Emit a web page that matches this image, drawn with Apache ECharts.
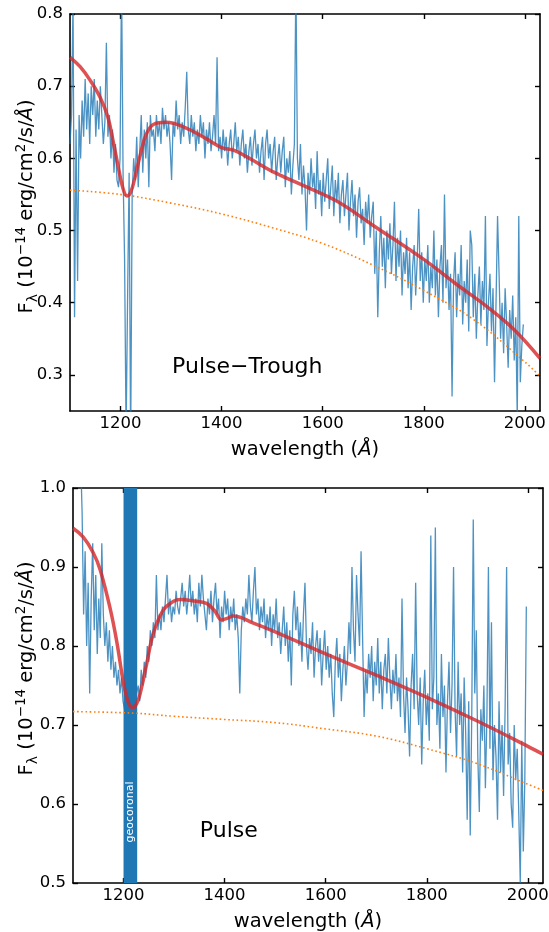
<!DOCTYPE html>
<html>
<head>
<meta charset="utf-8">
<script src="https://cdn.jsdelivr.net/npm/echarts@6/dist/echarts.min.js"></script>
<style>
  html, body { margin: 0; padding: 0; background: #fff; }
  #chart { width: 549px; height: 932px; }
</style>
</head>
<body>
<div id="chart"></div>
<script>
// ---------------- DATA ----------------
const WAVE_START = 1100;   // Å, first sample of observed spectrum grid
const WAVE_STEP = 3;       // Å, sampling step

// Observed flux, Pulse−Trough panel (10^-14 erg/cm2/s/Å), one row = 30 Å
const FLUX_TOP = [
  0.62,0.66,0.82,0.38,0.64,0.43,0.66,0.60,0.68,0.63, // 1100
  0.71,0.64,0.69,0.62,0.70,0.66,0.71,0.63,0.68,0.64, // 1130
  0.70,0.66,0.62,0.65,0.76,0.63,0.66,0.60,0.64,0.58, // 1160
  0.62,0.57,0.56,0.60,0.85,0.58,0.46,0.22,0.41,0.58, // 1190
  0.20,0.55,0.60,0.57,0.63,0.56,0.61,0.66,0.58,0.64, // 1220
  0.60,0.65,0.56,0.66,0.63,0.64,0.61,0.66,0.63,0.65, // 1250
  0.62,0.67,0.64,0.66,0.63,0.65,0.62,0.57,0.65,0.63, // 1280
  0.68,0.64,0.66,0.62,0.65,0.63,0.67,0.72,0.64,0.62, // 1310
  0.66,0.63,0.65,0.61,0.64,0.62,0.66,0.63,0.65,0.60, // 1340
  0.64,0.62,0.65,0.61,0.63,0.66,0.62,0.74,0.61,0.63, // 1370
  0.60,0.64,0.61,0.63,0.59,0.62,0.64,0.60,0.62,0.65, // 1400
  0.61,0.63,0.59,0.62,0.64,0.60,0.62,0.58,0.61,0.63, // 1430
  0.59,0.62,0.64,0.60,0.62,0.58,0.61,0.63,0.57,0.62, // 1460
  0.64,0.60,0.62,0.58,0.61,0.63,0.57,0.60,0.62,0.58, // 1490
  0.61,0.63,0.56,0.60,0.58,0.61,0.55,0.59,0.62,0.85, // 1520
  0.60,0.57,0.62,0.55,0.59,0.56,0.50,0.58,0.55,0.60, // 1550
  0.56,0.58,0.53,0.61,0.55,0.57,0.52,0.58,0.54,0.57, // 1580
  0.60,0.53,0.56,0.59,0.52,0.57,0.54,0.58,0.51,0.55, // 1610
  0.57,0.52,0.55,0.58,0.50,0.54,0.57,0.52,0.55,0.49, // 1640
  0.54,0.56,0.51,0.53,0.48,0.54,0.51,0.55,0.49,0.52, // 1670
  0.54,0.44,0.50,0.38,0.47,0.52,0.45,0.49,0.42,0.50, // 1700
  0.46,0.51,0.44,0.48,0.54,0.43,0.49,0.45,0.50,0.41, // 1730
  0.47,0.44,0.49,0.42,0.47,0.39,0.45,0.48,0.41,0.46, // 1760
  0.53,0.43,0.47,0.40,0.46,0.43,0.48,0.40,0.45,0.42, // 1790
  0.50,0.41,0.46,0.38,0.45,0.48,0.40,0.55,0.42,0.46, // 1820
  0.39,0.44,0.27,0.43,0.47,0.38,0.44,0.41,0.48,0.37, // 1850
  0.43,0.40,0.46,0.36,0.50,0.48,0.38,0.44,0.35,0.41, // 1880
  0.45,0.37,0.43,0.39,0.52,0.34,0.40,0.44,0.36,0.42, // 1910
  0.29,0.40,0.52,0.44,0.35,0.40,0.33,0.42,0.37,0.31, // 1940
  0.39,0.35,0.41,0.32,0.38,0.24,0.52,0.29,0.34,0.37  // 1970
];

// Observed flux, Pulse panel
const FLUX_BOTTOM = [
  null,null,null,null,null,1.04,0.97,0.84,0.92,0.80, // 1100
  0.88,0.74,0.86,0.93,0.82,0.89,0.79,0.86,0.81,0.93, // 1130
  0.84,0.80,0.83,0.78,0.82,0.77,0.80,0.76,0.78,0.75, // 1160
  0.77,0.74,0.76,0.73,0.72,0.70,0.71,0.69,0.72,0.70, // 1190
  0.73,0.71,0.74,0.75,0.73,0.77,0.75,0.78,0.76,0.80, // 1220
  0.78,0.82,0.80,0.83,0.81,0.89,0.82,0.84,0.82,0.85, // 1250
  0.83,0.86,0.89,0.84,0.86,0.83,0.85,0.84,0.87,0.85, // 1280
  0.84,0.86,0.88,0.85,0.87,0.84,0.86,0.89,0.85,0.87, // 1310
  0.84,0.86,0.83,0.88,0.85,0.89,0.86,0.84,0.82,0.86, // 1340
  0.84,0.87,0.83,0.86,0.88,0.84,0.86,0.81,0.85,0.83, // 1370
  0.87,0.84,0.86,0.82,0.85,0.83,0.86,0.82,0.84,0.81, // 1400
  0.74,0.82,0.85,0.83,0.86,0.84,0.89,0.85,0.83,0.87, // 1430
  0.90,0.84,0.86,0.82,0.85,0.83,0.86,0.81,0.84,0.82, // 1460
  0.85,0.80,0.84,0.82,0.86,0.81,0.83,0.79,0.82,0.85, // 1490
  0.80,0.83,0.78,0.82,0.75,0.84,0.87,0.82,0.85,0.80, // 1520
  0.83,0.78,0.84,0.88,0.80,0.77,0.81,0.79,0.83,0.76, // 1550
  0.80,0.82,0.78,0.81,0.75,0.79,0.82,0.77,0.80,0.76, // 1580
  0.79,0.74,0.71,0.78,0.81,0.76,0.79,0.73,0.77,0.80, // 1610
  0.75,0.78,0.83,0.79,0.90,0.82,0.78,0.89,0.84,0.80, // 1640
  0.92,0.81,0.71,0.77,0.74,0.79,0.76,0.80,0.73,0.78, // 1670
  0.75,0.81,0.74,0.78,0.72,0.77,0.79,0.74,0.81,0.76, // 1700
  0.72,0.77,0.74,0.79,0.73,0.76,0.71,0.86,0.74,0.69, // 1730
  0.76,0.72,0.66,0.75,0.79,0.72,0.88,0.74,0.70,0.76, // 1760
  0.65,0.73,0.77,0.70,0.74,0.68,0.94,0.72,0.76,0.95, // 1790
  0.70,0.74,0.67,0.79,0.71,0.75,0.64,0.73,0.78,0.69, // 1820
  0.75,0.90,0.72,0.66,0.78,0.70,0.74,0.64,0.76,0.69, // 1850
  0.58,0.73,0.56,0.71,0.96,0.74,0.82,0.66,0.59,0.72, // 1880
  0.68,0.75,0.62,0.71,0.90,0.67,0.83,0.63,0.70,0.66, // 1910
  0.58,0.73,0.64,0.70,0.61,0.72,0.90,0.65,0.69,0.60, // 1940
  0.57,0.70,0.63,0.67,0.59,0.50,0.68,0.54,0.63,0.85  // 1970
];

// Model (red) and continuum (orange dotted), Pulse−Trough
const MODEL_TOP_WAVE = [1100,1120,1140,1160,1175,1185,1195,1205,1213,1220,1228,1238,1250,1265,1290,1330,1370,1400,1425,1460,1500,1560,1630,1700,1800,1860,1930,1980,2030];
const MODEL_TOP_FLUX = [0.740,0.727,0.708,0.684,0.657,0.625,0.590,0.558,0.548,0.553,0.572,0.602,0.632,0.647,0.650,0.642,0.627,0.615,0.611,0.598,0.582,0.563,0.540,0.507,0.460,0.428,0.392,0.362,0.323];
const CONT_TOP_WAVE = [1100,1200,1300,1400,1500,1600,1700,1800,1900,2000,2030];
const CONT_TOP_FLUX = [0.556,0.550,0.538,0.523,0.504,0.482,0.452,0.417,0.376,0.318,0.298];

// Model and continuum, Pulse
const MODEL_BOTTOM_WAVE = [1100,1120,1140,1154,1174,1187,1200,1210,1218,1226,1233,1246,1259,1279,1300,1312,1340,1364,1380,1394,1405,1417,1457,1500,1600,1700,1800,1900,2000,2030];
const MODEL_BOTTOM_FLUX = [0.949,0.938,0.918,0.896,0.846,0.804,0.753,0.728,0.722,0.727,0.740,0.778,0.816,0.846,0.857,0.859,0.857,0.854,0.845,0.833,0.835,0.838,0.829,0.818,0.790,0.763,0.735,0.705,0.673,0.663];
const CONT_BOTTOM_WAVE = [1100,1220,1300,1400,1500,1600,1700,1800,1900,2000,2030];
const CONT_BOTTOM_FLUX = [0.717,0.715,0.711,0.707,0.703,0.695,0.686,0.670,0.651,0.625,0.617];

const GEO_BAND = [1200, 1227];
const X_TICKS = [1200, 1400, 1600, 1800, 2000];
const Y_TICKS_TOP = [0.3, 0.4, 0.5, 0.6, 0.7, 0.8];
const Y_TICKS_BOTTOM = [0.5, 0.6, 0.7, 0.8, 0.9, 1.0];
const PANEL_LABELS = ['Pulse\u2212Trough', 'Pulse'];
const BAND_LABEL = 'geocoronal';

// ---------------- BUILD ----------------
const FONT = 'DejaVu Sans';
const pairs = (xs, ys) => xs.map((x, i) => [x, ys[i]]);
const gridded = ys => ys.map((y, i) => [WAVE_START + i * WAVE_STEP, y]);

const chart = echarts.init(document.getElementById('chart'), null, { renderer: 'canvas' });

const lineAx = { show: true, onZero: false, lineStyle: { color: '#000', width: 1.6 } };
const tickStyle = { color: '#000', width: 1.4 };

function xAxes(grid) {
  return [
    {
      type: 'value', gridIndex: grid, min: 1100, max: 2030, position: 'bottom',
      axisLine: lineAx,
      axisTick: { inside: true, length: 5, lineStyle: tickStyle, customValues: X_TICKS },
      axisLabel: { customValues: X_TICKS, color: '#000', fontSize: 16.5, fontFamily: FONT, margin: 4,
                   formatter: v => String(v) },
      splitLine: { show: false },
      name: '{n|wavelength (}{it|\u00C5}{n|)}',
      nameLocation: 'middle', nameGap: 29, nameMoveOverlap: false,
      nameTextStyle: {
        fontFamily: FONT, fontSize: 19.5, color: '#000',
        rich: {
          n: { fontFamily: FONT, fontSize: 19.5, color: '#000' },
          it: { fontFamily: FONT, fontSize: 19.5, fontStyle: 'italic', color: '#000' }
        }
      }
    },
    {
      type: 'value', gridIndex: grid, min: 1100, max: 2030, position: 'top',
      axisLine: lineAx,
      axisTick: { inside: true, length: 5, lineStyle: tickStyle, customValues: X_TICKS },
      axisLabel: { show: false },
      splitLine: { show: false }
    }
  ];
}

const yName = '{n|F}{sub|\u03BB}{n| (10}{sup|\u221214}{n| erg/cm}{sup|2}{n|/s/}{it|\u00C5}{n|)}';
function yAxes(grid, min, max, ticks, shift, gap) {
  return [
    {
      type: 'value', gridIndex: grid, min: min, max: max, position: 'left',
      axisLine: lineAx,
      axisTick: { inside: true, length: 5, lineStyle: tickStyle, customValues: ticks },
      axisLabel: { customValues: ticks, color: '#000', fontSize: 16.5, fontFamily: FONT, margin: 7,
                   formatter: v => v.toFixed(1) },
      splitLine: { show: false },
      name: yName, nameLocation: 'middle', nameRotate: 90, nameGap: gap, nameMoveOverlap: false,
      nameTextStyle: {
        fontFamily: FONT, fontSize: 19.5, color: '#000',
        padding: [0, 0, 0, shift],
        rich: {
          n: { fontFamily: FONT, fontSize: 19.5, lineHeight: 26, color: '#000' },
          it: { fontFamily: FONT, fontSize: 19.5, lineHeight: 26, fontStyle: 'italic', color: '#000' },
          sub: { fontFamily: FONT, fontSize: 14, lineHeight: 16, verticalAlign: 'bottom', color: '#000' },
          sup: { fontFamily: FONT, fontSize: 13.5, lineHeight: 13, verticalAlign: 'top', color: '#000' }
        }
      }
    },
    {
      type: 'value', gridIndex: grid, min: min, max: max, position: 'right',
      axisLine: lineAx,
      axisTick: { inside: true, length: 5, lineStyle: tickStyle, customValues: ticks },
      axisLabel: { show: false },
      splitLine: { show: false }
    }
  ];
}

const BLUE = '#1f77b4', RED = '#d62728', ORANGE = '#ff7f0e';

function panelSeries(xi, yi, flux, mw, mf, cw, cf) {
  return [
    { type: 'line', xAxisIndex: xi, yAxisIndex: yi, data: gridded(flux), showSymbol: false,
      connectNulls: false, z: 2, silent: true,
      lineStyle: { color: BLUE, width: 1.3, opacity: 0.8 } },
    { type: 'line', xAxisIndex: xi, yAxisIndex: yi, data: pairs(cw, cf), showSymbol: false,
      smooth: 0.4, z: 4, silent: true,
      lineStyle: { color: ORANGE, width: 1.6, type: [1.6, 2.6] } },
    { type: 'line', xAxisIndex: xi, yAxisIndex: yi, data: pairs(mw, mf), showSymbol: false,
      smooth: 0.4, z: 5, silent: true,
      lineStyle: { color: RED, width: 3.5, opacity: 0.8 } }
  ];
}

const series = [].concat(
  panelSeries(0, 0, FLUX_TOP, MODEL_TOP_WAVE, MODEL_TOP_FLUX, CONT_TOP_WAVE, CONT_TOP_FLUX),
  panelSeries(2, 2, FLUX_BOTTOM, MODEL_BOTTOM_WAVE, MODEL_BOTTOM_FLUX, CONT_BOTTOM_WAVE, CONT_BOTTOM_FLUX),
  [{
    type: 'line', xAxisIndex: 2, yAxisIndex: 2, data: [], z: 3, silent: true,
    markArea: {
      silent: true, z: 3,
      itemStyle: { color: BLUE, opacity: 1 },
      label: { show: false },
      data: [[{ xAxis: GEO_BAND[0] }, { xAxis: GEO_BAND[1] }]]
    }
  }]
);

chart.setOption({
  animation: false,
  backgroundColor: '#fff',
  textStyle: { fontFamily: FONT },
  grid: [
    { left: 70, right: 9, top: 14, height: 397, containLabel: false, outerBoundsMode: 'none' },
    { left: 73, right: 6, top: 488, height: 395, containLabel: false, outerBoundsMode: 'none' }
  ],
  xAxis: [].concat(xAxes(0), xAxes(1)),
  yAxis: [].concat(yAxes(0, 0.25, 0.8, Y_TICKS_TOP, 12, 30), yAxes(1, 0.5, 1.0, Y_TICKS_BOTTOM, 34, 33)),
  series: series
});

// Panel annotations, anchored via data coordinates
const p1 = chart.convertToPixel({ xAxisIndex: 0, yAxisIndex: 0 }, [1302, 0.31]);
const p2 = chart.convertToPixel({ xAxisIndex: 2, yAxisIndex: 2 }, [1351, 0.565]);
const pb = chart.convertToPixel({ xAxisIndex: 2, yAxisIndex: 2 }, [(GEO_BAND[0] + GEO_BAND[1]) / 2, 0.59]);
chart.setOption({
  graphic: [
    { type: 'text', x: p1[0], y: p1[1], z: 10,
      style: { text: PANEL_LABELS[0], fontFamily: FONT, fontSize: 22, fill: '#000', align: 'left', verticalAlign: 'middle' } },
    { type: 'text', x: p2[0], y: p2[1], z: 10,
      style: { text: PANEL_LABELS[1], fontFamily: FONT, fontSize: 22, fill: '#000', align: 'left', verticalAlign: 'middle' } },
    { type: 'text', x: pb[0], y: pb[1], rotation: Math.PI / 2, z: 10,
      style: { text: BAND_LABEL, fontFamily: FONT, fontSize: 11, fill: '#fff', align: 'center', verticalAlign: 'middle' } }
  ]
});
</script>
</body>
</html>
